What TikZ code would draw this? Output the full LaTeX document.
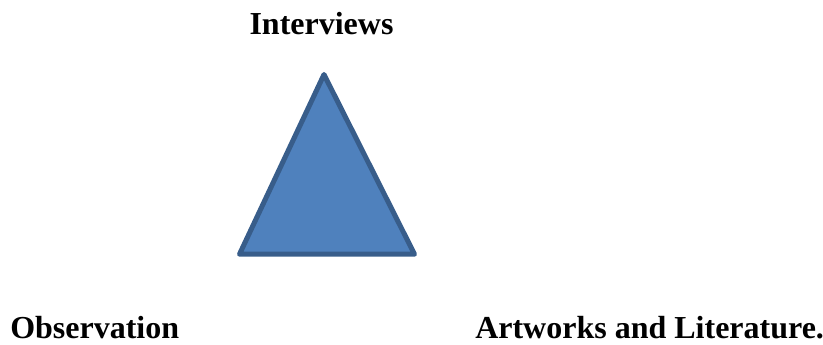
\documentclass[tikz,border=0pt]{standalone}
\usepackage{fontspec}
\setmainfont{Liberation Serif}
\definecolor{trifill}{HTML}{4F81BD}
\definecolor{triedge}{HTML}{385D8A}
\begin{document}
\begin{tikzpicture}[x=0.75pt,y=-0.75pt,
  lbl/.style={inner sep=0pt,font=\fontsize{24}{28}\selectfont\bfseries},
  tri/.style={fill=trifill,draw=triedge,line width=3.75pt,line join=round}]
\useasboundingbox (0,0) rectangle (823,345);
\coordinate (apex) at (324,74.5);
\coordinate (bl) at (239.5,254.2);
\coordinate (br) at (414.5,254.2);
\draw[tri] (apex) -- (br) -- (bl) -- cycle;
\node[lbl,anchor=base] (int) at (321.5,35) {Interviews};
\node[lbl,anchor=base west] (obs) at (10,338) {Observation};
\node[lbl,anchor=base west] (art) at (475,338) {Artworks and Literature.};
\end{tikzpicture}
\end{document}
